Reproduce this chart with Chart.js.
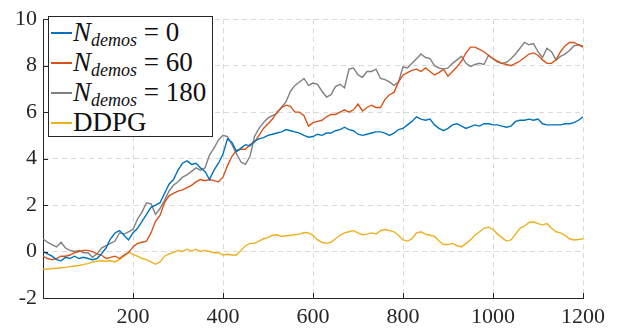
<!DOCTYPE html>
<html>
<head>
<meta charset="utf-8">
<script src="https://cdn.jsdelivr.net/npm/chart.js@4/dist/chart.umd.min.js"></script>
<style>
  html, body { margin: 0; padding: 0; background: #fff; }
  #wrap { position: relative; width: 628px; height: 333px; }
  #legend {
    position: absolute; left: 48px; top: 16px; width: 165px; height: 121px;
    border: 1px solid #262626; background: #fff; box-sizing: border-box;
    font-family: "Liberation Serif", serif; color: #111;
  }
  .row { position: absolute; left: 0; height: 30px; white-space: nowrap; }
  .sw { position: absolute; left: 2px; width: 21px; height: 2px; }
  .lbl { position: absolute; left: 24px; font-size: 27px; line-height: 30px; }
  .lbl i sub { font-size: 18px; vertical-align: -5px; }
</style>
</head>
<body>
<div id="wrap">
  <canvas id="myChart" width="628" height="333"></canvas>
  <div id="legend"></div>
</div>
<script>
// x-Werte (Episoden), Schrittweite 10
const episodes = [];
for (let i = 0; i <= 1200; i += 10) episodes.push(i);

const labels = ['N_demos = 0', 'N_demos = 60', 'N_demos = 180', 'DDPG'];
const colors = ['#0072BD', '#D95319', '#808080', '#EDB120'];

const values_n0 = [
  0.0, -0.1, -0.2, -0.35, -0.4, -0.25, -0.3, -0.2, -0.3, -0.25,
  -0.3, -0.35, -0.3, -0.1, 0.15, 0.55, 0.8, 0.9, 0.7, 0.5,
  0.8, 1.0, 1.3, 1.6, 1.9, 2.0, 2.1, 2.5, 2.9, 3.1,
  3.5, 3.8, 3.9, 3.75, 3.8, 3.6, 3.45, 3.1, 3.5, 3.8,
  4.2, 4.85, 4.7, 4.3, 4.45, 4.6, 4.55, 4.75, 4.85, 4.9,
  5.0, 5.05, 5.1, 5.15, 5.25, 5.2, 5.15, 5.1, 5.0, 4.92,
  4.95, 5.05, 5.0, 5.1, 5.1, 5.2, 5.25, 5.35, 5.25, 5.2,
  5.05, 5.0, 5.05, 5.1, 5.15, 5.15, 5.1, 5.0, 5.1, 5.25,
  5.3, 5.45, 5.6, 5.8, 5.7, 5.65, 5.7, 5.45, 5.3, 5.2,
  5.3, 5.45, 5.5, 5.4, 5.3, 5.38, 5.45, 5.4, 5.5, 5.5,
  5.45, 5.45, 5.4, 5.35, 5.4, 5.6, 5.65, 5.65, 5.7, 5.65,
  5.7, 5.5, 5.45, 5.45, 5.45, 5.45, 5.5, 5.5, 5.55, 5.65,
  5.8
];

const values_n60 = [
  -0.2, -0.3, -0.35, -0.3, -0.2, -0.2, -0.15, -0.05, 0.0, 0.05,
  0.05, 0.0, -0.1, -0.15, -0.3, -0.25, -0.2, -0.3, -0.15, -0.05,
  0.2, 0.35, 0.4, 0.45, 0.8, 1.3, 1.55, 2.1, 2.4, 2.5,
  2.6, 2.65, 2.75, 2.85, 3.0, 3.1, 3.05, 3.1, 3.05, 3.0,
  3.2, 3.7, 4.1, 4.35, 4.4, 4.4, 4.6, 4.7, 5.0, 5.3,
  5.5, 5.7, 6.0, 6.2, 6.3, 6.25, 6.0, 6.0, 5.85, 5.4,
  5.55, 5.6, 5.65, 5.8, 5.9, 5.9, 6.0, 6.1, 6.0, 6.1,
  6.35, 6.05, 6.2, 6.3, 6.2, 6.2, 6.55, 6.75, 6.85, 7.3,
  7.6, 7.7, 7.8, 7.85, 7.75, 7.9, 7.75, 7.6, 7.7, 7.85,
  7.55, 7.75, 7.95, 8.2, 8.55, 8.8, 8.8, 8.7, 8.6, 8.45,
  8.3, 8.2, 8.1, 8.05, 8.0, 8.1, 8.2, 8.35, 8.5, 8.55,
  8.45, 8.25, 8.1, 8.1, 8.25, 8.6, 8.85, 9.0, 9.0, 8.9,
  8.8
];

const values_n180 = [
  0.55, 0.4, 0.3, 0.2, 0.4, 0.15, 0.05, 0.0, 0.05, -0.05,
  -0.05, -0.25, -0.1, 0.15, 0.25, 0.35, 0.45, 0.8, 0.75, 0.85,
  0.95, 1.4, 1.7, 2.1, 2.05, 1.6, 1.85, 2.2, 2.6, 2.85,
  3.0, 3.2, 3.3, 3.45, 3.6, 3.5, 3.6, 4.15, 4.45, 4.8,
  5.0, 4.95, 4.6, 4.2, 3.85, 3.75, 4.1, 4.95, 5.3, 5.55,
  5.75, 5.85, 5.95, 6.2, 6.45, 6.9, 7.15, 7.3, 7.45, 7.15,
  7.25, 7.2, 6.9, 6.65, 6.75, 7.1, 7.2, 7.05, 7.85, 7.9,
  7.6, 7.5, 7.75, 7.75, 7.85, 7.45, 7.4, 7.3, 7.15, 7.3,
  7.95, 7.9, 8.1, 8.3, 8.5, 8.35, 8.3, 8.0, 7.9, 7.85,
  7.9, 8.1, 8.25, 8.4, 8.1, 7.97, 8.05, 8.1, 8.05, 8.45,
  8.3, 8.15, 8.1, 8.15, 8.3, 8.5, 8.75, 9.0, 8.9, 8.95,
  8.6, 8.35, 8.75, 8.6, 8.25, 8.4, 8.5, 8.65, 8.85, 8.9,
  8.85
];

const values_ddpg = [
  -0.77, -0.75, -0.74, -0.72, -0.7, -0.68, -0.65, -0.62, -0.6, -0.55,
  -0.52, -0.45, -0.42, -0.4, -0.42, -0.4, -0.45, -0.35, -0.2, -0.02,
  -0.12, -0.2, -0.3, -0.35, -0.45, -0.55, -0.45, -0.2, -0.1, -0.05,
  0.05, 0.0, 0.1, 0.02, 0.1, 0.0, 0.05, 0.0, -0.05, -0.05,
  -0.15, -0.12, -0.15, -0.15, 0.05, 0.25, 0.35, 0.35, 0.45, 0.55,
  0.6, 0.7, 0.72, 0.65, 0.68, 0.7, 0.72, 0.75, 0.82, 0.8,
  0.7, 0.5, 0.4, 0.35, 0.4, 0.55, 0.7, 0.8, 0.85, 0.9,
  0.8, 0.72, 0.75, 0.8, 0.75, 0.9, 0.95, 0.9, 0.85, 0.7,
  0.5, 0.45, 0.55, 0.8, 0.85, 0.75, 0.7, 0.65, 0.45, 0.3,
  0.3, 0.35, 0.25, 0.2, 0.35, 0.5, 0.7, 0.85, 1.0, 1.05,
  0.95, 0.75, 0.6, 0.45, 0.5, 0.75, 1.0, 1.1, 1.25, 1.28,
  1.2, 1.15, 1.2, 1.0, 0.85, 0.8, 0.7, 0.55, 0.5, 0.52,
  0.55
];

const x_ticks = [200, 400, 600, 800, 1000, 1200];
const y_ticks = [-2, 0, 2, 4, 6, 8, 10];

function toPoints(vals) {
    return vals.map((v, i) => ({ x: episodes[i], y: v }));
}

// Legende als HTML (mit Index N_demos)
const legend = document.getElementById('legend');
labels.forEach((txt, i) => {
    const row = document.createElement('div');
    row.className = 'row';
    row.style.top = (i * 30) + 'px';
    const sw = document.createElement('span');
    sw.className = 'sw';
    sw.style.top = '15px';
    sw.style.background = colors[i];
    const lbl = document.createElement('span');
    lbl.className = 'lbl';
    if (txt.startsWith('N_demos')) {
        lbl.innerHTML = '<i>N<sub>demos</sub></i> = ' + txt.split('= ')[1];
    } else {
        lbl.textContent = txt;
    }
    row.appendChild(sw);
    row.appendChild(lbl);
    legend.appendChild(row);
});

// MATLAB-artige Ticks nach innen
const innerTicks = {
    id: 'innerTicks',
    afterDraw(chart) {
        const c = chart.ctx, xs = chart.scales.x, ys = chart.scales.y;
        const a = chart.chartArea;
        c.save();
        c.strokeStyle = '#262626';
        c.lineWidth = 1;
        c.beginPath();
        x_ticks.forEach(t => {
            const px = Math.round(xs.getPixelForValue(t)) + 0.5;
            c.moveTo(px, a.bottom);
            c.lineTo(px, a.bottom - 5);
        });
        y_ticks.forEach(t => {
            const py = Math.round(ys.getPixelForValue(t)) + 0.5;
            c.moveTo(a.left, py);
            c.lineTo(a.left + 5, py);
        });
        c.stroke();
        c.restore();
    }
};

const ctx = document.getElementById('myChart').getContext('2d');
const myChart = new Chart(ctx, {
    type: 'line',
    data: {
        datasets: labels.map((l, i) => ({
            label: l,
            data: toPoints([values_n0, values_n60, values_n180, values_ddpg][i]),
            borderColor: colors[i],
            borderWidth: 1.4,
            pointRadius: 0,
            tension: 0,
        })),
    },
    options: {
        responsive: false,
        animation: false,
        layout: { padding: { top: 11, right: 45, left: 0, bottom: 0 } },
        plugins: {
            legend: { display: false },
            tooltip: { enabled: false },
        },
        scales: {
            x: {
                type: 'linear',
                min: 0,
                max: 1200,
                afterFit: s => { s.height = 35; },
                afterBuildTicks: s => { s.ticks = [0].concat(x_ticks).map(v => ({ value: v })); },
                ticks: {
                    callback: v => (v === 0 ? '' : v),
                    color: '#262626',
                    font: { family: 'Liberation Serif', size: 22 },
                    padding: 6,
                    maxRotation: 0,
                },
                grid: {
                    color: '#d9d9d9',
                    lineWidth: 1,
                    drawTicks: false,
                },
                border: { display: true, color: '#262626', dash: [5, 4], width: 1 },
            },
            y: {
                min: -2,
                max: 10,
                afterFit: s => { s.width = 43; },
                afterBuildTicks: s => { s.ticks = y_ticks.map(v => ({ value: v })); },
                ticks: {
                    color: '#262626',
                    font: { family: 'Liberation Serif', size: 22 },
                    padding: 6,
                },
                grid: {
                    color: '#d9d9d9',
                    lineWidth: 1,
                    drawTicks: false,
                },
                border: { display: true, color: '#262626', dash: [5, 4], width: 1 },
            },
        },
    },
    plugins: [innerTicks],
});
</script>
</body>
</html>
